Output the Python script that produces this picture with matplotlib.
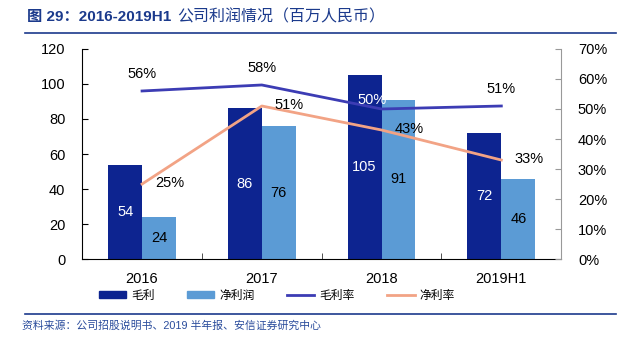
import numpy as np
import matplotlib
matplotlib.use("Agg")
import matplotlib.pyplot as plt
from matplotlib.lines import Line2D
from matplotlib.patches import Patch

plt.rcParams['font.family'] = ['Liberation Sans', 'Noto Sans CJK SC', 'DejaVu Sans']

# data (百万人民币 / %)
years = ['2016', '2017', '2018', '2019H1']
gross_profit = [54, 86, 105, 72]
net_profit = [24, 76, 91, 46]
gross_margin = [56, 58, 50, 51]
net_margin = [25, 51, 43, 33]

c_dark = '#0D2490'
c_light = '#5B9BD5'
c_gm = '#3C3CB4'
c_nm = '#F2A385'
c_title = '#1B3A8C'

fig = plt.figure(figsize=(6.32, 3.4), dpi=100)
ax = fig.add_axes([0.130, 0.238, 0.758, 0.618])
ax2 = ax.twinx()

x = np.arange(len(years))
w = 0.283
ax.bar(x - w / 2, gross_profit, w, color=c_dark, zorder=2)
ax.bar(x + w / 2, net_profit, w, color=c_light, zorder=2)

for xi, v in zip(x, gross_profit):
    ax.text(xi - w / 2, v / 2, str(v), ha='center', va='center', color='white', fontsize=10.5)
for xi, v in zip(x, net_profit):
    ax.text(xi + w / 2, v / 2, str(v), ha='center', va='center', color='black', fontsize=10.5)

ax.set_xlim(-0.5, 3.5)
ax.set_ylim(0, 120)
ax.set_yticks(range(0, 121, 20))
ax.set_xticks(x)
ax.set_xticklabels(years, fontsize=10.5)
ax.set_xticks(np.arange(0.5, 3, 1), minor=True)
ax.tick_params(axis='x', which='major', length=0, pad=9)
ax.tick_params(axis='x', which='minor', direction='in', length=4, color='#333333')
ax.tick_params(axis='y', direction='in', length=4, labelsize=10.5, pad=12)
for s in ['top', 'right']:
    ax.spines[s].set_visible(False)

# margin lines on the right axis
ax2.plot(x, gross_margin, color=c_gm, lw=2, zorder=3)
ax2.plot(x, net_margin, color=c_nm, lw=2, zorder=3)
ax2.set_ylim(0, 70)
ax2.set_yticks(range(0, 71, 10))
ax2.set_yticklabels([f'{v}%' for v in range(0, 71, 10)])
ax2.tick_params(axis='y', direction='in', length=4, labelsize=10.5, color='#999999', pad=12)
for s in ['top', 'left', 'bottom']:
    ax2.spines[s].set_visible(False)
ax2.spines['right'].set_color('#999999')

for xi, v in zip(x, gross_margin):
    col = 'white' if xi == 2 else 'black'
    dx = -0.08 if xi == 2 else 0
    dy = 3.0 if xi == 2 else 5.5
    ax2.text(xi + dx, v + dy, f'{v}%', ha='center', va='center', color=col, fontsize=10.5)
for xi, v in zip(x, net_margin):
    ax2.text(xi + 0.23, v + 0.3, f'{v}%', ha='center', va='center', color='black', fontsize=10.5)

# legend
handles = [Patch(color=c_dark), Patch(color=c_light),
           Line2D([], [], color=c_gm, lw=2), Line2D([], [], color=c_nm, lw=2)]
labels = ['毛利', '净利润', '毛利率', '净利率']
fig.legend(handles, labels, loc='center', bbox_to_anchor=(0.438, 0.13), ncol=4,
           frameon=False, fontsize=8.5, handlelength=2.3, handleheight=0.55,
           columnspacing=2.75, handletextpad=0.45)

# title and source
fig.text(0.042, 0.95, '图 29：2016-2019H1', fontsize=11,
         fontweight='bold', color=c_title, ha='left', va='center')
fig.text(0.280, 0.95, '公司利润情况（百万人民币）', fontsize=11.5,
         color=c_title, ha='left', va='center')
fig.add_artist(Line2D([0.04, 0.975], [0.903, 0.903], color=c_title, lw=1.2))
fig.add_artist(Line2D([0.04, 0.975], [0.077, 0.077], color=c_title, lw=1.2))
fig.text(0.035, 0.043, '资料来源：公司招股说明书、2019 半年报、安信证券研究中心', fontsize=7.8,
         color='#2A4C9C', ha='left', va='center')

fig.savefig('out.png', dpi=100)
